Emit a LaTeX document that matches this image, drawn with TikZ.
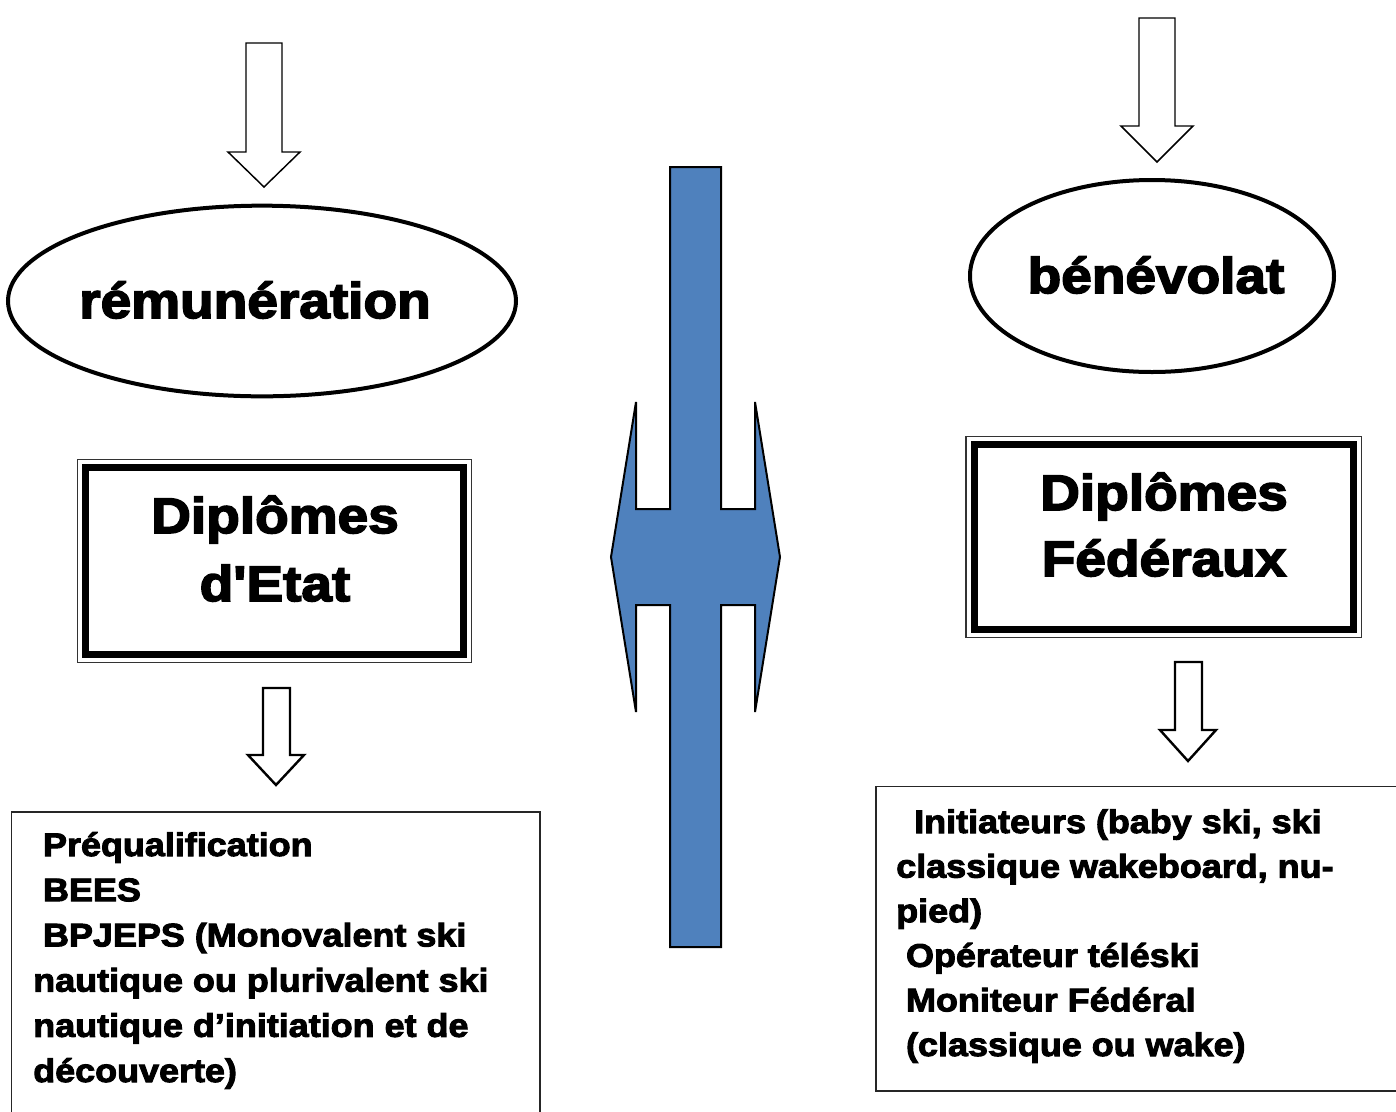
\documentclass[tikz,border=0pt]{standalone}
\usepackage{fontspec}
\newfontfamily\blk[FakeStretch=1.1,FakeBold=3.3]{Liberation Sans Bold}
\newfontfamily\blkb[FakeStretch=1.1,FakeBold=3.0]{Liberation Sans Bold}
\usetikzlibrary{shapes.geometric}
\definecolor{arrowblue}{HTML}{4F81BD}
\begin{document}
\begin{tikzpicture}[x=0.75pt,y=-0.75pt,
  hollow/.style={draw=black,fill=white,line width=1.1pt,line join=miter},
  hollowb/.style={draw=black,fill=white,line width=1.8pt,line join=miter},
  oval/.style={draw=black,ellipse,line width=3pt,inner sep=0pt},
  hd/.style={font=\blk\fontsize{37.5}{51}\selectfont,align=center,inner sep=0pt},
  body/.style={font=\blkb\fontsize{24.5}{33.9}\selectfont,align=left,inner sep=0pt},
  thickbox/.style={draw=black,line width=5.25pt,inner sep=0pt,outer sep=0pt},
  thinframe/.style={draw=black!80,line width=1.1pt},
  listbox/.style={draw=black!85,line width=1.3pt}]
\fill[white] (0,0) rectangle (1396,1111);
\path[use as bounding box] (0,0) rectangle (1396,1111);
\clip (0,0) rectangle (1396,1111);

% top arrows
\draw[hollow] (246,43) -- (282,43) -- (282,152) -- (300,152) -- (264,187) -- (228,152) -- (246,152) -- cycle;
\draw[hollow] (1139,18) -- (1175,18) -- (1175,126) -- (1193,126) -- (1157,162) -- (1121,126) -- (1139,126) -- cycle;

% ellipses
\node[oval,minimum width=381pt,minimum height=143pt] (rem) at (262,301) {};
\node[font=\blk\fontsize{37.5}{40}\selectfont,inner sep=0pt,anchor=base] (remtxt) at (255,318) {rémunération};
\node[oval,minimum width=273pt,minimum height=144pt] (ben) at (1152,276) {};
\node[font=\blk\fontsize{37.5}{40}\selectfont,inner sep=0pt,anchor=base] (bentxt) at (1156,293) {bénévolat};

% double boxes
\node[thickbox,minimum width=283.5pt,minimum height=140.25pt] (de) at (274.5,561) {};
\draw[thinframe] ([shift={(-8,-8)}]de.north west) rectangle ([shift={(8,8)}]de.south east);
\node[hd,anchor=base] (detxt) at (275,601) {Diplômes\\d'Etat};

\node[thickbox,minimum width=284.6pt,minimum height=139.1pt] (df) at (1163.75,537) {};
\draw[thinframe] ([shift={(-8,-8)}]df.north west) rectangle ([shift={(8,8)}]df.south east);
\node[hd,anchor=base,font=\blk\fontsize{37.5}{49.5}\selectfont] (dftxt) at (1164,576) {Diplômes\\Fédéraux};

% lower arrows
\draw[hollowb] (263,688) -- (290,688) -- (290,755) -- (304,755) -- (276,785) -- (248,755) -- (263,755) -- cycle;
\draw[hollowb] (1175,662) -- (1202,662) -- (1202,730) -- (1216,730) -- (1188,761) -- (1160,730) -- (1175,730) -- cycle;

% central double arrow
\draw[fill=arrowblue,draw=black,line width=1.5pt,line join=miter]
 (670,167) -- (721,167) -- (721,509) -- (755,509) -- (755,402) -- (780,557) -- (755,712) -- (755,605) -- (721,605) -- (721,947) -- (670,947) -- (670,605) -- (636,605) -- (636,712) -- (611,557) -- (636,402) -- (636,509) -- (670,509) -- cycle;

% list boxes
\draw[listbox] (11.5,812) rectangle (540,1130);
\node[body,anchor=base west] (lefttxt) at (33,1082) {\hspace*{0.3em}Préqualification\\
\hspace*{0.3em}BEES\\
\hspace*{0.3em}BPJEPS (Monovalent ski\\
nautique ou plurivalent ski\\
nautique d’initiation et de\\
découverte)};

\draw[listbox] (876,786.5) rectangle (1410,1091);
\node[body,anchor=base west,font=\blkb\fontsize{24.5}{33.45}\selectfont] (righttxt) at (896,1056) {\hspace*{0.55em}Initiateurs (baby ski, ski\\
classique wakeboard, nu-\\
pied)\\
\hspace*{0.3em}Opérateur téléski\\
\hspace*{0.3em}Moniteur Fédéral\\
\hspace*{0.3em}(classique ou wake)};
\end{tikzpicture}
\end{document}
